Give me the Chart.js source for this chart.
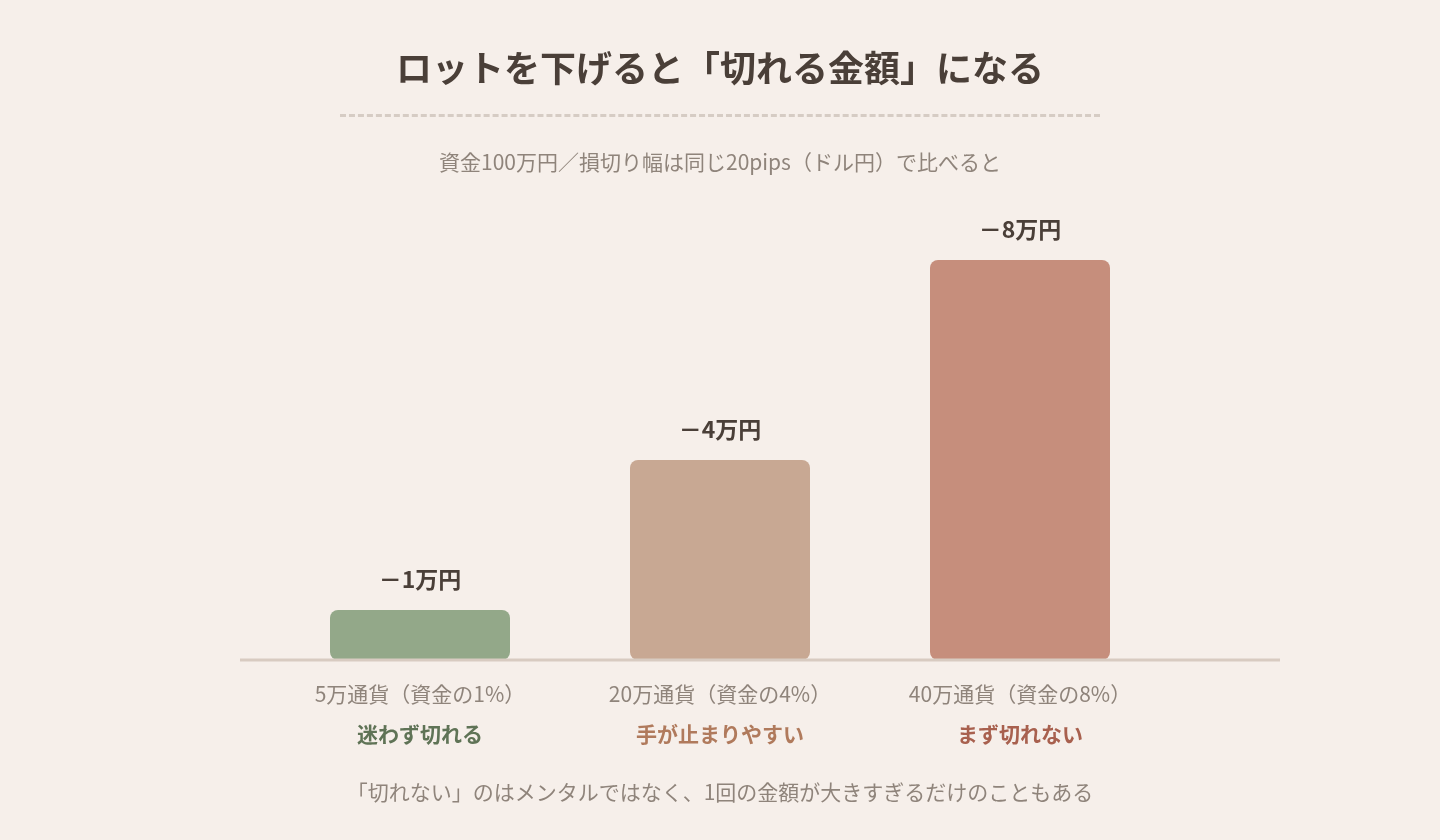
<!DOCTYPE html>
<html><head><meta charset="utf-8">
<script src="https://cdn.jsdelivr.net/npm/chart.js@4/dist/chart.umd.min.js"></script>
<style>
html,body{margin:0;background:#f6efea;width:1440px;height:840px;overflow:hidden;font-family:"Noto Sans CJK JP","Noto Sans",sans-serif}
#t{position:absolute;top:40px;left:0;width:1440px;text-align:center;font-size:36px;font-weight:700;color:#4a3f38}
#ln{position:absolute;top:114px;left:340px;width:760px;border-top:3px dashed #d6ccc4}
#s{position:absolute;top:146px;left:0;width:1440px;text-align:center;font-size:21px;color:#8f847b}
#f{position:absolute;top:776px;left:0;width:1440px;text-align:center;font-size:21px;color:#8f847b}
#wrap{position:absolute;left:0;top:0;width:1440px;height:840px}
</style></head><body>
<div id="wrap"><canvas id="c" width="1440" height="840"></canvas></div>
<div id="t">ロットを下げると「切れる金額」になる</div>
<div id="ln"></div>
<div id="s">資金100万円／損切り幅は同じ20pips（ドル円）で比べると</div>
<div id="f">「切れない」のはメンタルではなく、1回の金額が大きすぎるだけのこともある</div>
<script>
// data
const lots=['5万通貨（資金の1%）','20万通貨（資金の4%）','40万通貨（資金の8%）'];
const notes=['迷わず切れる','手が止まりやすい','まず切れない'];
const losses=[1,4,8];
const valueLabels=['－1万円','－4万円','－8万円'];
const barColors=['#93a889','#c8a893','#c68e7c'];
const noteColors=['#5f7356','#b07a5c','#a8604e'];

const deco={id:'deco',afterDatasetsDraw(ch){
  const c=ch.ctx,x=ch.scales.x,y=ch.scales.y,meta=ch.getDatasetMeta(0);
  c.save();
  c.strokeStyle='#d8cbc1';c.lineWidth=3;
  c.beginPath();c.moveTo(240,y.getPixelForValue(0));c.lineTo(1280,y.getPixelForValue(0));c.stroke();
  c.textAlign='center';c.textBaseline='alphabetic';
  meta.data.forEach((b,i)=>{
    c.font='700 23px "Noto Sans CJK JP"';c.fillStyle='#4a3f38';
    c.fillText(valueLabels[i],b.x,b.y-22);
    c.font='400 21px "Noto Sans CJK JP"';c.fillStyle='#8f847b';
    c.fillText(lots[i],x.getPixelForValue(i),702);
    c.font='700 21px "Noto Sans CJK JP"';c.fillStyle=noteColors[i];
    c.fillText(notes[i],x.getPixelForValue(i),742);
  });
  c.restore();
}};

new Chart(document.getElementById('c'),{
  type:'bar',
  data:{labels:lots,datasets:[{data:losses,backgroundColor:barColors,borderRadius:8,borderSkipped:false,barPercentage:0.6,categoryPercentage:1}]},
  options:{responsive:false,animation:false,
    layout:{padding:{left:270,right:270,top:160,bottom:180}},
    plugins:{legend:{display:false},tooltip:{enabled:false}},
    scales:{x:{display:false},y:{display:false,min:0,max:10}}},
  plugins:[deco]
});
</script>
</body></html>
